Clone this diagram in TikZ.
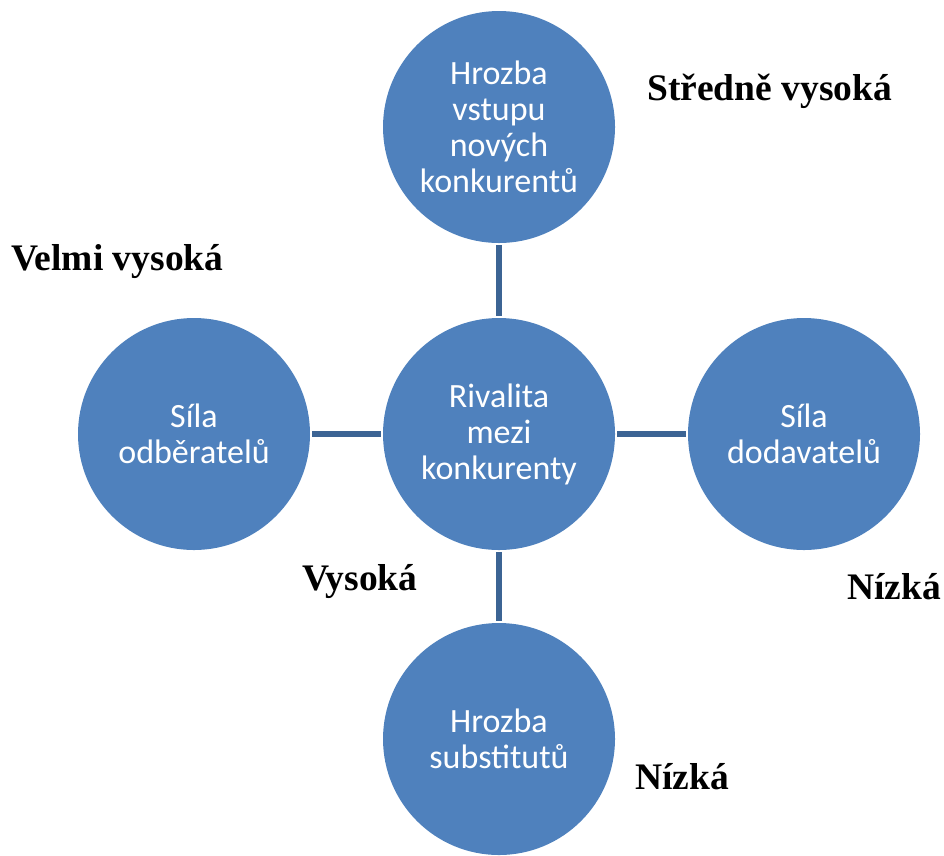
\documentclass[tikz,border=0pt]{standalone}
\usepackage{fontspec}
\setmainfont{Liberation Serif}
\newfontfamily\calib{Carlito}
\definecolor{cfill}{HTML}{4F81BD}
\definecolor{cline}{HTML}{3C6494}
\begin{document}
\begin{tikzpicture}[x=1pt,y=-1pt,
  force/.style={circle,fill=cfill,draw=none,minimum size=232pt,inner sep=0pt,
    text=white,align=center,font=\calib\fontsize{34}{36}\selectfont},
  link/.style={draw=cline,line width=6pt,shorten <=2pt,shorten >=2pt},
  lbl/.style={anchor=base west,inner sep=0pt,font=\bfseries\fontsize{37.5}{40}\selectfont}]
\useasboundingbox (0,0) rectangle (944,855);
\node[force] (T) at (499,127) {Hrozba\\vstupu\\nových\\konkurentů};
\node[force] (C) at (499,434) {Rivalita\\mezi\\konkurenty};
\node[force] (L) at (194,434) {Síla\\odběratelů};
\node[force] (R) at (804,434) {Síla\\dodavatelů};
\node[force] (B) at (499,739) {Hrozba\\substitutů};
\draw[link] (C.north) -- (T.south);
\draw[link] (C.west) -- (L.east);
\draw[link] (C.east) -- (R.west);
\draw[link] (C.south) -- (B.north);
\node[lbl] (lt) at (647,100) {Středně vysoká};
\node[lbl] (ll) at (11,270) {Velmi vysoká};
\node[lbl] (lc) at (302,590) {Vysoká};
\node[lbl] (lr) at (847,599) {Nízká};
\node[lbl] (lb) at (635,789) {Nízká};
\end{tikzpicture}
\end{document}
